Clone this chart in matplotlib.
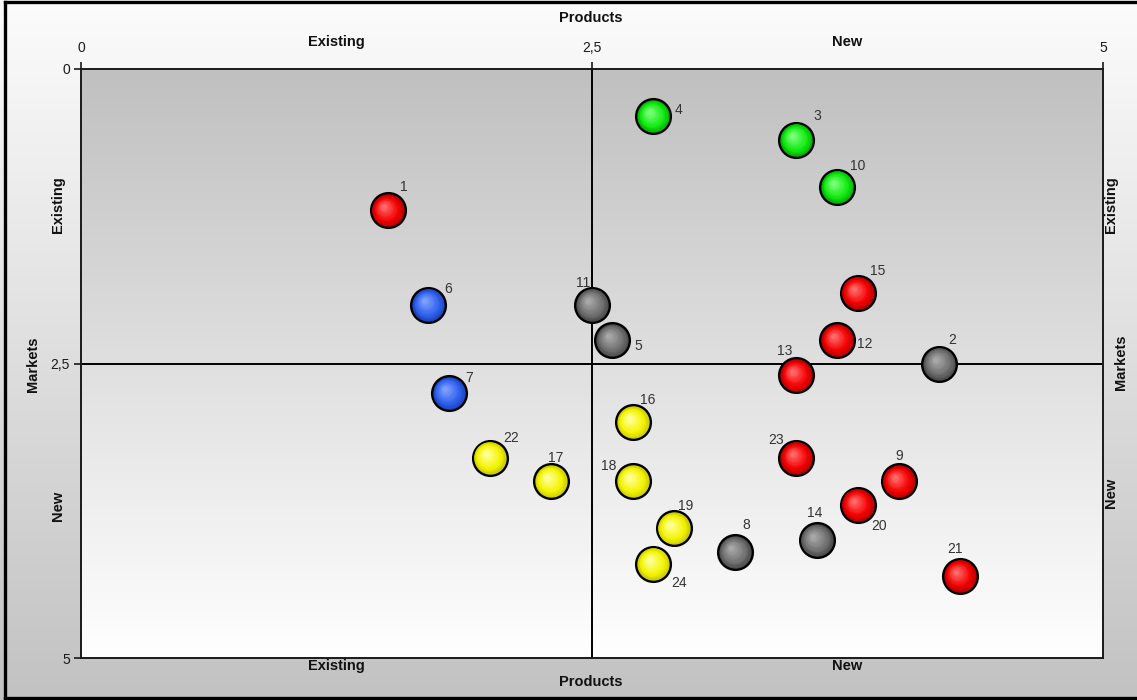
import numpy as np
import matplotlib
matplotlib.use("Agg")
import matplotlib.pyplot as plt
from matplotlib.colors import to_rgb
from matplotlib.transforms import ScaledTranslation, blended_transform_factory
from matplotlib.lines import Line2D

# Portfolio items: id, products position (x), markets position (y), group
item_ids = [1, 2, 3, 4, 5, 6, 7, 8, 9, 10, 11, 12,
            13, 14, 15, 16, 17, 18, 19, 20, 21, 22, 23, 24]
products = [1.5, 4.2, 3.5, 2.8, 2.6, 1.7, 1.8, 3.2, 4.0, 3.7, 2.5, 3.7,
            3.5, 3.6, 3.8, 2.7, 2.3, 2.7, 2.9, 3.8, 4.3, 2.0, 3.5, 2.8]
markets = [1.2, 2.5, 0.6, 0.4, 2.3, 2.0, 2.75, 4.1, 3.5, 1.0, 2.0, 2.3,
           2.6, 4.0, 1.9, 3.0, 3.5, 3.5, 3.9, 3.7, 4.3, 3.3, 3.3, 4.2]
groups = ["red", "gray", "green", "green", "gray", "blue", "blue", "gray",
          "red", "green", "gray", "red", "red", "gray", "red", "yellow",
          "yellow", "yellow", "yellow", "red", "red", "yellow", "red", "yellow"]

axis_ticks = [0, 2.5, 5]
axis_tick_labels = ["0", "2,5", "5"]
quadrant_labels = ["Existing", "New"]
quadrant_centers = [1.25, 3.75]

# (edge shade, body, highlight) per group
palette = {
    "red":    ("#b80000", "#f40000", "#ff6a6a"),
    "green":  ("#00b400", "#12ea12", "#7aff7a"),
    "blue":   ("#1c44c0", "#2f62ee", "#7e9fff"),
    "gray":   ("#4c4c4c", "#707070", "#a8a8a8"),
    "yellow": ("#cccc00", "#f4f400", "#ffff9a"),
}

# label placement relative to bubble centre, in pixels (right, down)
label_offsets = {
    1: (16, -23), 2: (13, -24), 3: (21, -24), 4: (25, -6), 5: (26, 6),
    6: (20, -16), 7: (20, -15), 8: (11, -27), 9: (1, -25), 10: (20, -21),
    11: (-9, -22), 12: (27, 4), 13: (-12, -24), 14: (-2, -27), 15: (20, -22),
    16: (15, -22), 17: (5, -23), 18: (-24, -15), 19: (12, -22), 20: (21, 21),
    21: (-5, -27), 22: (21, -20), 23: (-20, -18), 24: (26, 19),
}

W, H, DPI = 1137, 700, 100
fig = plt.figure(figsize=(W / DPI, H / DPI), dpi=DPI)
plt.rcParams["font.family"] = ["Liberation Sans", "DejaVu Sans"]

# figure background: light at top, grey at bottom
bg = fig.add_axes([0, 0, 1, 1], zorder=-10)
grad = np.linspace(0, 1, 256)[:, None]
top_c = np.array(to_rgb("#fcfcfc"))
bot_c = np.array(to_rgb("#c2c2c2"))
bg_img = top_c[None, None, :] * (1 - grad[:, :, None]) + bot_c[None, None, :] * grad[:, :, None]
bg.imshow(bg_img, aspect="auto", extent=[0, 1, 0, 1], origin="upper")
bg.set_xlim(0, 1)
bg.set_ylim(0, 1)
bg.axis("off")
# frame on left, top and bottom
bg.add_line(Line2D([0.004, 0.004], [0.003, 0.997], color="black", lw=2.4))
bg.add_line(Line2D([0.004, 1.0], [0.997, 0.997], color="black", lw=2.4))
bg.add_line(Line2D([0.004, 1.0], [0.003, 0.003], color="black", lw=2.4))

L, R, T, B = 81, 1103, 69, 658
ax = fig.add_axes([L / W, 1 - B / H, (R - L) / W, (B - T) / H])

# plot area background: grey at top fading to white at bottom
pa_top = np.array(to_rgb("#c0c0c0"))
pa_bot = np.array(to_rgb("#ffffff"))
pa_img = pa_top[None, None, :] * (1 - grad[:, :, None]) + pa_bot[None, None, :] * grad[:, :, None]
ax.imshow(pa_img, aspect="auto", extent=[0, 5, 5, 0], zorder=0)
ax.set_xlim(0, 5)
ax.set_ylim(5, 0)

for s in ax.spines.values():
    s.set_color("#1a1a1a")
    s.set_linewidth(1.4)

# quadrant dividers
ax.axvline(2.5, color="black", lw=1.4, zorder=1)
ax.axhline(2.5, color="black", lw=1.4, zorder=1)

ax.xaxis.tick_top()
ax.set_xticks(axis_ticks)
ax.set_xticklabels(axis_tick_labels)
ax.set_yticks(axis_ticks)
ax.set_yticklabels(axis_tick_labels)
ax.tick_params(axis="x", top=True, bottom=False, length=5, width=1.2,
               direction="out", pad=5, labelsize=10, colors="#1a1a1a")
ax.tick_params(axis="y", left=True, right=False, length=5, width=1.2,
               direction="out", pad=3, labelsize=10, colors="#1a1a1a")

# bubbles with a soft radial shading
diam = 25.0  # points
n_layers = 12

def mix(c1, c2, t):
    a, b = np.array(to_rgb(c1)), np.array(to_rgb(c2))
    return tuple(a * (1 - t) + b * t)

for g in palette:
    idx = [i for i, gg in enumerate(groups) if gg == g]
    xs = [products[i] for i in idx]
    ys = [markets[i] for i in idx]
    edge, body, light = palette[g]
    ax.scatter(xs, ys, s=diam ** 2, color=edge, edgecolor="black",
               linewidth=1.7, zorder=3)
    for k in range(1, n_layers):
        t = k / (n_layers - 1)
        if t < 0.3:
            col = mix(edge, body, t / 0.3)
        else:
            col = mix(body, light, (t - 0.3) / 0.7)
        d = diam * (1 - 0.82 * t) - 1.2
        off = ScaledTranslation(-0.04 * t, 0.04 * t, fig.dpi_scale_trans)
        ax.scatter(xs, ys, s=d ** 2, color=col, linewidth=0, zorder=3 + k * 0.01,
                   transform=ax.transData + off)

for i, n in enumerate(item_ids):
    dx, dy = label_offsets[n]
    ax.annotate(str(n), (products[i], markets[i]), xytext=(dx * 0.72, -dy * 0.72),
                textcoords="offset points", ha="center", va="center",
                fontsize=10, color="#333333", zorder=5)

# quadrant captions above and below the plot area
tr_top = blended_transform_factory(ax.transData, fig.transFigure)
for c, lab in zip(quadrant_centers, quadrant_labels):
    ax.text(c, 1 - 42 / H, lab, transform=tr_top, ha="center", va="center",
            fontsize=10.5, fontweight="bold", color="#111111")
    ax.text(c, 1 - 666 / H, lab, transform=tr_top, ha="center", va="center",
            fontsize=10.5, fontweight="bold", color="#111111")

def ftext(px, py, s, **kw):
    fig.text(px / W, 1 - py / H, s, ha="center", va="center", fontsize=10.5,
             fontweight="bold", color="#111111", **kw)

ftext(591, 18, "Products")
ftext(591, 682, "Products")
ftext(58, 205, "Existing", rotation=90)
ftext(33, 364, "Markets", rotation=90)
ftext(58, 506, "New", rotation=90)
ftext(1111, 205, "Existing", rotation=90)
ftext(1121, 362, "Markets", rotation=90)
ftext(1111, 493, "New", rotation=90)

fig.savefig("out.png", dpi=DPI)
